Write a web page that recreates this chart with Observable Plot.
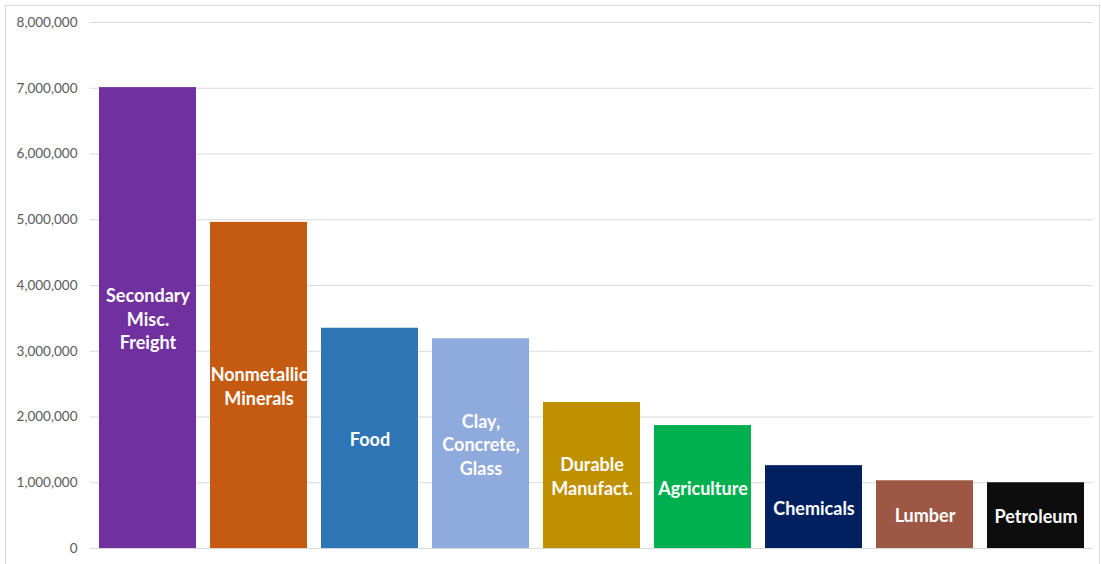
<!DOCTYPE html>
<html>
<head>
<meta charset="utf-8">
<script src="https://cdn.jsdelivr.net/npm/d3@7"></script>
<script src="https://cdn.jsdelivr.net/npm/@observablehq/plot@0.6"></script>
<style>
  html, body { margin: 0; padding: 0; background: #fff; }
  #wrap { position: relative; width: 1101px; height: 564px; }
  #frame { position: absolute; left: 5px; top: 5px; width: 1095px; height: 560px; border: 1px solid #d9d9d9; box-sizing: border-box; pointer-events: none; }
  svg { display: block; }
</style>
</head>
<body>
<div id="wrap"><div id="frame"></div></div>
<script>
const categories = ["Secondary\nMisc.\nFreight", "Nonmetallic\nMinerals", "Food", "Clay,\nConcrete,\nGlass", "Durable\nManufact.", "Agriculture", "Chemicals", "Lumber", "Petroleum"];
const values = [7010000, 4960000, 3350000, 3190000, 2220000, 1870000, 1260000, 1030000, 1000000];
const colors = ["#7030A0", "#C55A11", "#2E75B6", "#8FAADC", "#BF9000", "#00B050", "#002060", "#9C5845", "#0D0D0D"];
const yTicks = [0, 1000000, 2000000, 3000000, 4000000, 5000000, 6000000, 7000000, 8000000];

const data = categories.map((c, i) => ({cat: c, value: values[i], color: colors[i]}));

const chart = Plot.plot({
  width: 1101,
  height: 564,
  marginLeft: 90,
  marginRight: 8,
  marginTop: 22,
  marginBottom: 16,
  style: {fontFamily: "Lato, 'Open Sans', sans-serif", background: "transparent"},
  x: {domain: categories, paddingInner: 0.13, paddingOuter: 0.065, axis: null},
  y: {domain: [0, 8000000], ticks: yTicks, label: null},
  marks: [
    Plot.gridY(yTicks, {stroke: "#d9d9d9", strokeOpacity: 1, strokeWidth: 1}),
    Plot.axisY(yTicks, {tickSize: 0, tickPadding: 13, fontSize: 13.5, fill: "#595959", tickFormat: d => d3.format(",")(d), label: null}),
    Plot.barY(data, {x: "cat", y: "value", fill: "color"}),
    Plot.text(data, {x: "cat", y: d => d.value / 2, text: "cat", fill: "white", fontSize: 18, fontWeight: "bold", lineHeight: 1.3, fontFamily: "Lato, 'Open Sans', sans-serif"})
  ]
});
document.getElementById("wrap").prepend(chart);
</script>
</body>
</html>
